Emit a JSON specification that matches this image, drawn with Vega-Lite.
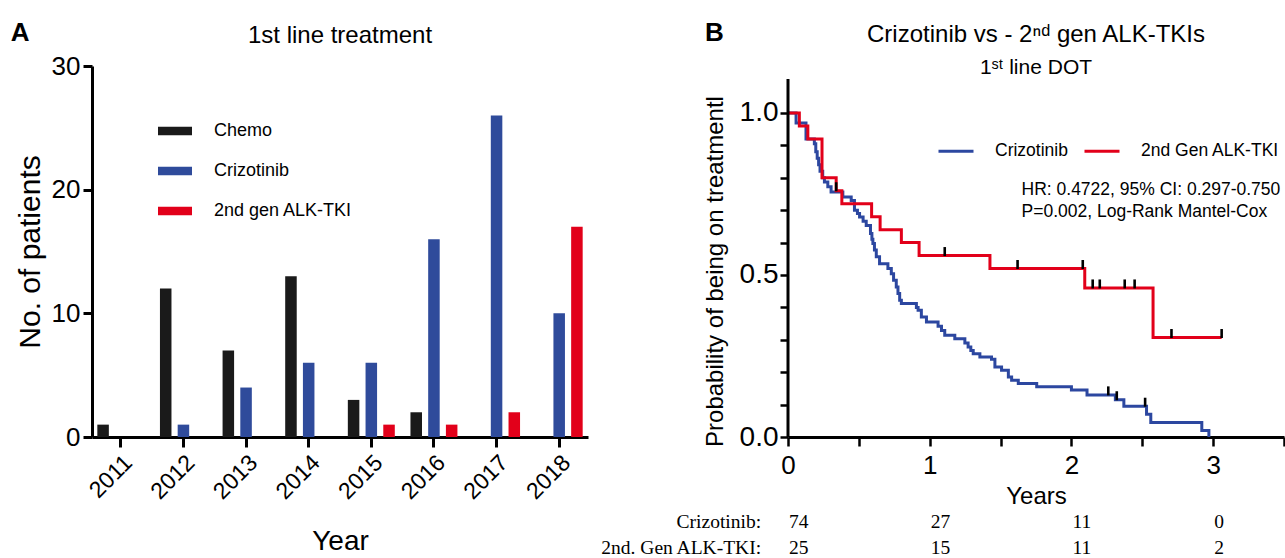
{
  "$schema": "https://vega.github.io/schema/vega-lite/v6.json",
  "background": "white",
  "autosize": {"type": "pad"},
  "padding": {"left": 10, "top": 19, "right": 0, "bottom": 0},
  "spacing": 12,
  "config": {
    "font": "Liberation Sans",
    "view": {"stroke": null},
    "axis": {"labelColor": "black", "titleColor": "black", "domainColor": "black", "tickColor": "black", "grid": false, "titleFontWeight": "normal", "labelFont": "Liberation Sans", "titleFont": "Liberation Sans"},
    "title": {"color": "black", "subtitleColor": "black", "fontWeight": "normal", "font": "Liberation Sans", "subtitleFont": "Liberation Sans"},
    "legend": {"labelColor": "black", "labelFont": "Liberation Sans"}
  },
  "datasets": {
    "bars": [
      {"Year": "2011", "Treatment": "Chemo", "Patients": 1},
      {"Year": "2011", "Treatment": "Crizotinib", "Patients": 0},
      {"Year": "2011", "Treatment": "2nd gen ALK-TKI", "Patients": 0},
      {"Year": "2012", "Treatment": "Chemo", "Patients": 12},
      {"Year": "2012", "Treatment": "Crizotinib", "Patients": 1},
      {"Year": "2012", "Treatment": "2nd gen ALK-TKI", "Patients": 0},
      {"Year": "2013", "Treatment": "Chemo", "Patients": 7},
      {"Year": "2013", "Treatment": "Crizotinib", "Patients": 4},
      {"Year": "2013", "Treatment": "2nd gen ALK-TKI", "Patients": 0},
      {"Year": "2014", "Treatment": "Chemo", "Patients": 13},
      {"Year": "2014", "Treatment": "Crizotinib", "Patients": 6},
      {"Year": "2014", "Treatment": "2nd gen ALK-TKI", "Patients": 0},
      {"Year": "2015", "Treatment": "Chemo", "Patients": 3},
      {"Year": "2015", "Treatment": "Crizotinib", "Patients": 6},
      {"Year": "2015", "Treatment": "2nd gen ALK-TKI", "Patients": 1},
      {"Year": "2016", "Treatment": "Chemo", "Patients": 2},
      {"Year": "2016", "Treatment": "Crizotinib", "Patients": 16},
      {"Year": "2016", "Treatment": "2nd gen ALK-TKI", "Patients": 1},
      {"Year": "2017", "Treatment": "Chemo", "Patients": 0},
      {"Year": "2017", "Treatment": "Crizotinib", "Patients": 26},
      {"Year": "2017", "Treatment": "2nd gen ALK-TKI", "Patients": 2},
      {"Year": "2018", "Treatment": "Chemo", "Patients": 0},
      {"Year": "2018", "Treatment": "Crizotinib", "Patients": 10},
      {"Year": "2018", "Treatment": "2nd gen ALK-TKI", "Patients": 17}
    ],
    "km": [
      {"Group": "Crizotinib", "t": 0, "s": 1.0},
      {"Group": "Crizotinib", "t": 0.057, "s": 0.969},
      {"Group": "Crizotinib", "t": 0.127, "s": 0.92},
      {"Group": "Crizotinib", "t": 0.186, "s": 0.905},
      {"Group": "Crizotinib", "t": 0.196, "s": 0.88},
      {"Group": "Crizotinib", "t": 0.206, "s": 0.86},
      {"Group": "Crizotinib", "t": 0.216, "s": 0.84},
      {"Group": "Crizotinib", "t": 0.226, "s": 0.82},
      {"Group": "Crizotinib", "t": 0.245, "s": 0.80},
      {"Group": "Crizotinib", "t": 0.257, "s": 0.787},
      {"Group": "Crizotinib", "t": 0.281, "s": 0.772},
      {"Group": "Crizotinib", "t": 0.304, "s": 0.756},
      {"Group": "Crizotinib", "t": 0.387, "s": 0.741},
      {"Group": "Crizotinib", "t": 0.446, "s": 0.73},
      {"Group": "Crizotinib", "t": 0.469, "s": 0.70},
      {"Group": "Crizotinib", "t": 0.49, "s": 0.69},
      {"Group": "Crizotinib", "t": 0.505, "s": 0.679},
      {"Group": "Crizotinib", "t": 0.53, "s": 0.666},
      {"Group": "Crizotinib", "t": 0.552, "s": 0.653},
      {"Group": "Crizotinib", "t": 0.582, "s": 0.628},
      {"Group": "Crizotinib", "t": 0.592, "s": 0.61},
      {"Group": "Crizotinib", "t": 0.599, "s": 0.597},
      {"Group": "Crizotinib", "t": 0.61, "s": 0.577},
      {"Group": "Crizotinib", "t": 0.623, "s": 0.556},
      {"Group": "Crizotinib", "t": 0.646, "s": 0.535},
      {"Group": "Crizotinib", "t": 0.705, "s": 0.52},
      {"Group": "Crizotinib", "t": 0.729, "s": 0.504},
      {"Group": "Crizotinib", "t": 0.745, "s": 0.484},
      {"Group": "Crizotinib", "t": 0.764, "s": 0.463},
      {"Group": "Crizotinib", "t": 0.776, "s": 0.443},
      {"Group": "Crizotinib", "t": 0.788, "s": 0.422},
      {"Group": "Crizotinib", "t": 0.80, "s": 0.412},
      {"Group": "Crizotinib", "t": 0.906, "s": 0.40},
      {"Group": "Crizotinib", "t": 0.918, "s": 0.391},
      {"Group": "Crizotinib", "t": 0.941, "s": 0.37},
      {"Group": "Crizotinib", "t": 0.977, "s": 0.355},
      {"Group": "Crizotinib", "t": 1.059, "s": 0.342},
      {"Group": "Crizotinib", "t": 1.083, "s": 0.329},
      {"Group": "Crizotinib", "t": 1.106, "s": 0.314},
      {"Group": "Crizotinib", "t": 1.177, "s": 0.303},
      {"Group": "Crizotinib", "t": 1.248, "s": 0.29},
      {"Group": "Crizotinib", "t": 1.271, "s": 0.278},
      {"Group": "Crizotinib", "t": 1.29, "s": 0.267},
      {"Group": "Crizotinib", "t": 1.307, "s": 0.257},
      {"Group": "Crizotinib", "t": 1.354, "s": 0.247},
      {"Group": "Crizotinib", "t": 1.436, "s": 0.24},
      {"Group": "Crizotinib", "t": 1.46, "s": 0.216},
      {"Group": "Crizotinib", "t": 1.507, "s": 0.206},
      {"Group": "Crizotinib", "t": 1.555, "s": 0.185},
      {"Group": "Crizotinib", "t": 1.578, "s": 0.175},
      {"Group": "Crizotinib", "t": 1.625, "s": 0.165},
      {"Group": "Crizotinib", "t": 1.755, "s": 0.155},
      {"Group": "Crizotinib", "t": 2.0, "s": 0.145},
      {"Group": "Crizotinib", "t": 2.11, "s": 0.13},
      {"Group": "Crizotinib", "t": 2.31, "s": 0.115},
      {"Group": "Crizotinib", "t": 2.37, "s": 0.095},
      {"Group": "Crizotinib", "t": 2.53, "s": 0.07},
      {"Group": "Crizotinib", "t": 2.56, "s": 0.045},
      {"Group": "Crizotinib", "t": 2.92, "s": 0.02},
      {"Group": "Crizotinib", "t": 2.97, "s": 0.0},
      {"Group": "2nd Gen ALK-TKI", "t": 0, "s": 1.0},
      {"Group": "2nd Gen ALK-TKI", "t": 0.08, "s": 0.96},
      {"Group": "2nd Gen ALK-TKI", "t": 0.14, "s": 0.92},
      {"Group": "2nd Gen ALK-TKI", "t": 0.24, "s": 0.80},
      {"Group": "2nd Gen ALK-TKI", "t": 0.34, "s": 0.76},
      {"Group": "2nd Gen ALK-TKI", "t": 0.38, "s": 0.72},
      {"Group": "2nd Gen ALK-TKI", "t": 0.59, "s": 0.68},
      {"Group": "2nd Gen ALK-TKI", "t": 0.65, "s": 0.64},
      {"Group": "2nd Gen ALK-TKI", "t": 0.80, "s": 0.60},
      {"Group": "2nd Gen ALK-TKI", "t": 0.925, "s": 0.56},
      {"Group": "2nd Gen ALK-TKI", "t": 1.425, "s": 0.52},
      {"Group": "2nd Gen ALK-TKI", "t": 2.094, "s": 0.46},
      {"Group": "2nd Gen ALK-TKI", "t": 2.576, "s": 0.307},
      {"Group": "2nd Gen ALK-TKI", "t": 3.06, "s": 0.307}
    ],
    "censor": [
      {"Group": "2nd Gen ALK-TKI", "t": 0.34, "s": 0.76},
      {"Group": "2nd Gen ALK-TKI", "t": 1.106, "s": 0.56},
      {"Group": "2nd Gen ALK-TKI", "t": 1.62, "s": 0.52},
      {"Group": "2nd Gen ALK-TKI", "t": 2.08, "s": 0.52},
      {"Group": "2nd Gen ALK-TKI", "t": 2.15, "s": 0.46},
      {"Group": "2nd Gen ALK-TKI", "t": 2.20, "s": 0.46},
      {"Group": "2nd Gen ALK-TKI", "t": 2.376, "s": 0.46},
      {"Group": "2nd Gen ALK-TKI", "t": 2.446, "s": 0.46},
      {"Group": "2nd Gen ALK-TKI", "t": 2.706, "s": 0.307},
      {"Group": "2nd Gen ALK-TKI", "t": 3.06, "s": 0.307},
      {"Group": "Crizotinib", "t": 2.26, "s": 0.13},
      {"Group": "Crizotinib", "t": 2.32, "s": 0.115},
      {"Group": "Crizotinib", "t": 2.52, "s": 0.095}
    ],
    "risk": [
      {"Group": "Crizotinib", "t": 0, "n": "74"},
      {"Group": "Crizotinib", "t": 1, "n": "27"},
      {"Group": "Crizotinib", "t": 2, "n": "11"},
      {"Group": "Crizotinib", "t": 3, "n": "0"},
      {"Group": "2nd Gen ALK-TKI", "t": 0, "n": "25"},
      {"Group": "2nd Gen ALK-TKI", "t": 1, "n": "15"},
      {"Group": "2nd Gen ALK-TKI", "t": 2, "n": "11"},
      {"Group": "2nd Gen ALK-TKI", "t": 3, "n": "2"}
    ]
  },
  "resolve": {"scale": {"color": "independent"}, "legend": {"color": "independent"}},
  "hconcat": [
    {
      "width": 496,
      "height": 371,
      "title": {"text": "1st line treatment", "fontSize": 24, "anchor": "middle", "frame": "group", "offset": -28},
      "layer": [
        {
          "data": {"name": "bars"},
          "mark": {"type": "bar"},
          "encoding": {
            "x": {"field": "Year", "type": "nominal", "sort": null,
              "scale": {"paddingInner": 0.25, "paddingOuter": 0.085},
              "axis": {"title": "Year", "titleFontSize": 28, "labelFontSize": 23, "labelAngle": -45, "tickSize": 10, "tickWidth": 3, "domainWidth": 3, "labelPadding": 4, "titlePadding": 24}},
            "xOffset": {"field": "Treatment", "type": "nominal",
              "scale": {"domain": ["Chemo", "Crizotinib", "2nd gen ALK-TKI"], "paddingInner": 0.35, "paddingOuter": 0}},
            "y": {"field": "Patients", "type": "quantitative",
              "scale": {"domain": [0, 30], "nice": false},
              "axis": {"values": [0, 10, 20, 30], "title": "No. of patients", "titleFontSize": 30, "labelFontSize": 26, "tickSize": 9, "tickWidth": 3, "domainWidth": 3, "labelPadding": 3, "titlePadding": 6}},
            "color": {"field": "Treatment", "type": "nominal",
              "scale": {"domain": ["Chemo", "Crizotinib", "2nd gen ALK-TKI"], "range": ["#1a1a1a", "#2f4b9b", "#e2001a"]},
              "legend": {"orient": "none", "legendX": 66, "legendY": 48, "title": null, "symbolType": "M-1,-0.25L1,-0.25L1,0.25L-1,0.25Z", "symbolSize": 1156, "symbolStrokeWidth": 0, "labelFontSize": 18, "labelOffset": 22, "rowPadding": 14, "padding": 0}}
          }
        },
        {
          "data": {"values": [{"label": "A"}]},
          "mark": {"type": "text", "fontSize": 26, "fontWeight": "bold", "align": "left", "baseline": "middle", "dx": -110, "color": "black"},
          "encoding": {
            "x": {"datum": "2011", "type": "nominal",
              "axis": {"title": "Year", "titleFontSize": 28, "labelFontSize": 23, "labelAngle": -45, "tickSize": 10, "tickWidth": 3, "domainWidth": 3, "labelPadding": 4, "titlePadding": 24}},
            "y": {"datum": 32.7, "type": "quantitative",
              "axis": {"values": [0, 10, 20, 30], "title": "No. of patients", "titleFontSize": 30, "labelFontSize": 26, "tickSize": 9, "tickWidth": 3, "domainWidth": 3, "labelPadding": 3, "titlePadding": 6}},
            "text": {"field": "label"}
          }
        }
      ]
    },
    {
      "width": 496,
      "height": 371,
      "title": {"text": "Crizotinib vs - 2ⁿᵈ gen ALK-TKIs", "subtitle": "1ˢᵗ line DOT", "fontSize": 24, "subtitleFontSize": 21, "anchor": "middle", "frame": "group", "offset": -58, "subtitlePadding": 10},
      "layer": [
        {
          "data": {"name": "km"},
          "mark": {"type": "line", "interpolate": "step-after", "strokeWidth": 3},
          "encoding": {
            "x": {"field": "t", "type": "quantitative",
              "scale": {"domain": [0, 3.5], "nice": false, "zero": false},
              "axis": {"values": [0, 0.5, 1, 1.5, 2, 2.5, 3, 3.5], "labelExpr": "datum.value % 1 == 0 ? format(datum.value, 'd') : ''", "title": "Years", "titleFontSize": 24, "labelFontSize": 26, "tickSize": 9, "tickWidth": 2.5, "domainWidth": 3, "labelFlush": false, "labelOverlap": false, "labelPadding": 6, "titlePadding": 6}},
            "y": {"field": "s", "type": "quantitative",
              "scale": {"domain": [0, 1.145], "nice": false},
              "axis": {"values": [0, 0.1, 0.2, 0.3, 0.4, 0.5, 0.6, 0.7, 0.8, 0.9, 1.0], "labelExpr": "datum.value == 0 || datum.value == 0.5 || datum.value == 1 ? format(datum.value, '.1f') : ''", "labelOverlap": false, "title": "Probability of being on treatmentl", "titleFontSize": 24, "labelFontSize": 28, "tickSize": 8, "tickWidth": 2.5, "domain": false, "labelPadding": 2, "titlePadding": 12, "titleY": 205}},
            "color": {"field": "Group", "type": "nominal",
              "scale": {"domain": ["Crizotinib", "2nd Gen ALK-TKI"], "range": ["#2c47a0", "#e2001a"]},
              "legend": {"orient": "none", "legendX": 149, "legendY": 66, "direction": "horizontal", "title": null, "symbolType": "stroke", "symbolSize": 1225, "symbolStrokeWidth": 3, "labelFontSize": 17.5, "labelOffset": 20, "columnPadding": 10, "padding": 0}}
          }
        },
        {
          "data": {"values": [{}]},
          "mark": {"type": "rule", "strokeWidth": 3, "color": "black"},
          "encoding": {
            "x": {"datum": 0, "type": "quantitative",
              "axis": {"values": [0, 0.5, 1, 1.5, 2, 2.5, 3, 3.5], "labelExpr": "datum.value % 1 == 0 ? format(datum.value, 'd') : ''", "title": "Years", "titleFontSize": 24, "labelFontSize": 26, "tickSize": 9, "tickWidth": 2.5, "domainWidth": 3, "labelFlush": false, "labelOverlap": false, "labelPadding": 6, "titlePadding": 6}},
            "y": {"datum": 0, "type": "quantitative",
              "axis": {"values": [0, 0.1, 0.2, 0.3, 0.4, 0.5, 0.6, 0.7, 0.8, 0.9, 1.0], "labelExpr": "datum.value == 0 || datum.value == 0.5 || datum.value == 1 ? format(datum.value, '.1f') : ''", "labelOverlap": false, "title": "Probability of being on treatmentl", "titleFontSize": 24, "labelFontSize": 28, "tickSize": 8, "tickWidth": 2.5, "domain": false, "labelPadding": 2, "titlePadding": 12, "titleY": 205}},
            "y2": {"datum": 1.105}
          }
        },
        {
          "data": {"name": "censor"},
          "mark": {"type": "tick", "orient": "vertical", "color": "#000000", "thickness": 2.6, "size": 9, "yOffset": -4, "opacity": 1},
          "encoding": {
            "x": {"field": "t", "type": "quantitative",
              "axis": {"values": [0, 0.5, 1, 1.5, 2, 2.5, 3, 3.5], "labelExpr": "datum.value % 1 == 0 ? format(datum.value, 'd') : ''", "title": "Years", "titleFontSize": 24, "labelFontSize": 26, "tickSize": 9, "tickWidth": 2.5, "domainWidth": 3, "labelFlush": false, "labelOverlap": false, "labelPadding": 6, "titlePadding": 6}},
            "y": {"field": "s", "type": "quantitative",
              "axis": {"values": [0, 0.1, 0.2, 0.3, 0.4, 0.5, 0.6, 0.7, 0.8, 0.9, 1.0], "labelExpr": "datum.value == 0 || datum.value == 0.5 || datum.value == 1 ? format(datum.value, '.1f') : ''", "labelOverlap": false, "title": "Probability of being on treatmentl", "titleFontSize": 24, "labelFontSize": 28, "tickSize": 8, "tickWidth": 2.5, "domain": false, "labelPadding": 2, "titlePadding": 12, "titleY": 205}}
          }
        },
        {
          "data": {"values": [{"lines": ["HR: 0.4722, 95% CI: 0.297-0.750", "P=0.002, Log-Rank Mantel-Cox"]}]},
          "mark": {"type": "text", "fontSize": 17.5, "align": "left", "baseline": "middle", "lineHeight": 22, "color": "black"},
          "encoding": {
            "x": {"datum": 1.648, "type": "quantitative",
              "axis": {"values": [0, 0.5, 1, 1.5, 2, 2.5, 3, 3.5], "labelExpr": "datum.value % 1 == 0 ? format(datum.value, 'd') : ''", "title": "Years", "titleFontSize": 24, "labelFontSize": 26, "tickSize": 9, "tickWidth": 2.5, "domainWidth": 3, "labelFlush": false, "labelOverlap": false, "labelPadding": 6, "titlePadding": 6}},
            "y": {"datum": 0.762, "type": "quantitative",
              "axis": {"values": [0, 0.1, 0.2, 0.3, 0.4, 0.5, 0.6, 0.7, 0.8, 0.9, 1.0], "labelExpr": "datum.value == 0 || datum.value == 0.5 || datum.value == 1 ? format(datum.value, '.1f') : ''", "labelOverlap": false, "title": "Probability of being on treatmentl", "titleFontSize": 24, "labelFontSize": 28, "tickSize": 8, "tickWidth": 2.5, "domain": false, "labelPadding": 2, "titlePadding": 12, "titleY": 205}},
            "text": {"field": "lines"}
          }
        },
        {
          "data": {"values": [{"label": "B"}]},
          "mark": {"type": "text", "fontSize": 26, "fontWeight": "bold", "align": "left", "baseline": "middle", "color": "black"},
          "encoding": {
            "x": {"datum": -0.585, "type": "quantitative",
              "axis": {"values": [0, 0.5, 1, 1.5, 2, 2.5, 3, 3.5], "labelExpr": "datum.value % 1 == 0 ? format(datum.value, 'd') : ''", "title": "Years", "titleFontSize": 24, "labelFontSize": 26, "tickSize": 9, "tickWidth": 2.5, "domainWidth": 3, "labelFlush": false, "labelOverlap": false, "labelPadding": 6, "titlePadding": 6}},
            "y": {"datum": 1.247, "type": "quantitative",
              "axis": {"values": [0, 0.1, 0.2, 0.3, 0.4, 0.5, 0.6, 0.7, 0.8, 0.9, 1.0], "labelExpr": "datum.value == 0 || datum.value == 0.5 || datum.value == 1 ? format(datum.value, '.1f') : ''", "labelOverlap": false, "title": "Probability of being on treatmentl", "titleFontSize": 24, "labelFontSize": 28, "tickSize": 8, "tickWidth": 2.5, "domain": false, "labelPadding": 2, "titlePadding": 12, "titleY": 205}},
            "text": {"field": "label"}
          }
        },
        {
          "data": {"name": "risk"},
          "transform": [{"filter": "datum.Group == 'Crizotinib'"}],
          "mark": {"type": "text", "font": "Liberation Serif", "fontSize": 19.5, "align": "left", "baseline": "middle", "color": "black", "dx": 1},
          "encoding": {
            "x": {"field": "t", "type": "quantitative",
              "axis": {"values": [0, 0.5, 1, 1.5, 2, 2.5, 3, 3.5], "labelExpr": "datum.value % 1 == 0 ? format(datum.value, 'd') : ''", "title": "Years", "titleFontSize": 24, "labelFontSize": 26, "tickSize": 9, "tickWidth": 2.5, "domainWidth": 3, "labelFlush": false, "labelOverlap": false, "labelPadding": 6, "titlePadding": 6}},
            "y": {"datum": -0.262, "type": "quantitative",
              "axis": {"values": [0, 0.1, 0.2, 0.3, 0.4, 0.5, 0.6, 0.7, 0.8, 0.9, 1.0], "labelExpr": "datum.value == 0 || datum.value == 0.5 || datum.value == 1 ? format(datum.value, '.1f') : ''", "labelOverlap": false, "title": "Probability of being on treatmentl", "titleFontSize": 24, "labelFontSize": 28, "tickSize": 8, "tickWidth": 2.5, "domain": false, "labelPadding": 2, "titlePadding": 12, "titleY": 205}},
            "text": {"field": "n"}
          }
        },
        {
          "data": {"name": "risk"},
          "transform": [{"filter": "datum.Group == '2nd Gen ALK-TKI'"}],
          "mark": {"type": "text", "font": "Liberation Serif", "fontSize": 19.5, "align": "left", "baseline": "middle", "color": "black", "dx": 1},
          "encoding": {
            "x": {"field": "t", "type": "quantitative",
              "axis": {"values": [0, 0.5, 1, 1.5, 2, 2.5, 3, 3.5], "labelExpr": "datum.value % 1 == 0 ? format(datum.value, 'd') : ''", "title": "Years", "titleFontSize": 24, "labelFontSize": 26, "tickSize": 9, "tickWidth": 2.5, "domainWidth": 3, "labelFlush": false, "labelOverlap": false, "labelPadding": 6, "titlePadding": 6}},
            "y": {"datum": -0.343, "type": "quantitative",
              "axis": {"values": [0, 0.1, 0.2, 0.3, 0.4, 0.5, 0.6, 0.7, 0.8, 0.9, 1.0], "labelExpr": "datum.value == 0 || datum.value == 0.5 || datum.value == 1 ? format(datum.value, '.1f') : ''", "labelOverlap": false, "title": "Probability of being on treatmentl", "titleFontSize": 24, "labelFontSize": 28, "tickSize": 8, "tickWidth": 2.5, "domain": false, "labelPadding": 2, "titlePadding": 12, "titleY": 205}},
            "text": {"field": "n"}
          }
        },
        {
          "data": {"values": [{"label": "Crizotinib:"}]},
          "mark": {"type": "text", "font": "Liberation Serif", "fontSize": 19.5, "align": "right", "baseline": "middle", "color": "black"},
          "encoding": {
            "x": {"datum": -0.19, "type": "quantitative",
              "axis": {"values": [0, 0.5, 1, 1.5, 2, 2.5, 3, 3.5], "labelExpr": "datum.value % 1 == 0 ? format(datum.value, 'd') : ''", "title": "Years", "titleFontSize": 24, "labelFontSize": 26, "tickSize": 9, "tickWidth": 2.5, "domainWidth": 3, "labelFlush": false, "labelOverlap": false, "labelPadding": 6, "titlePadding": 6}},
            "y": {"datum": -0.262, "type": "quantitative",
              "axis": {"values": [0, 0.1, 0.2, 0.3, 0.4, 0.5, 0.6, 0.7, 0.8, 0.9, 1.0], "labelExpr": "datum.value == 0 || datum.value == 0.5 || datum.value == 1 ? format(datum.value, '.1f') : ''", "labelOverlap": false, "title": "Probability of being on treatmentl", "titleFontSize": 24, "labelFontSize": 28, "tickSize": 8, "tickWidth": 2.5, "domain": false, "labelPadding": 2, "titlePadding": 12, "titleY": 205}},
            "text": {"field": "label"}
          }
        },
        {
          "data": {"values": [{"label": "2nd. Gen ALK-TKI:"}]},
          "mark": {"type": "text", "font": "Liberation Serif", "fontSize": 19.5, "align": "right", "baseline": "middle", "color": "black"},
          "encoding": {
            "x": {"datum": -0.19, "type": "quantitative",
              "axis": {"values": [0, 0.5, 1, 1.5, 2, 2.5, 3, 3.5], "labelExpr": "datum.value % 1 == 0 ? format(datum.value, 'd') : ''", "title": "Years", "titleFontSize": 24, "labelFontSize": 26, "tickSize": 9, "tickWidth": 2.5, "domainWidth": 3, "labelFlush": false, "labelOverlap": false, "labelPadding": 6, "titlePadding": 6}},
            "y": {"datum": -0.343, "type": "quantitative",
              "axis": {"values": [0, 0.1, 0.2, 0.3, 0.4, 0.5, 0.6, 0.7, 0.8, 0.9, 1.0], "labelExpr": "datum.value == 0 || datum.value == 0.5 || datum.value == 1 ? format(datum.value, '.1f') : ''", "labelOverlap": false, "title": "Probability of being on treatmentl", "titleFontSize": 24, "labelFontSize": 28, "tickSize": 8, "tickWidth": 2.5, "domain": false, "labelPadding": 2, "titlePadding": 12, "titleY": 205}},
            "text": {"field": "label"}
          }
        }
      ]
    }
  ]
}
